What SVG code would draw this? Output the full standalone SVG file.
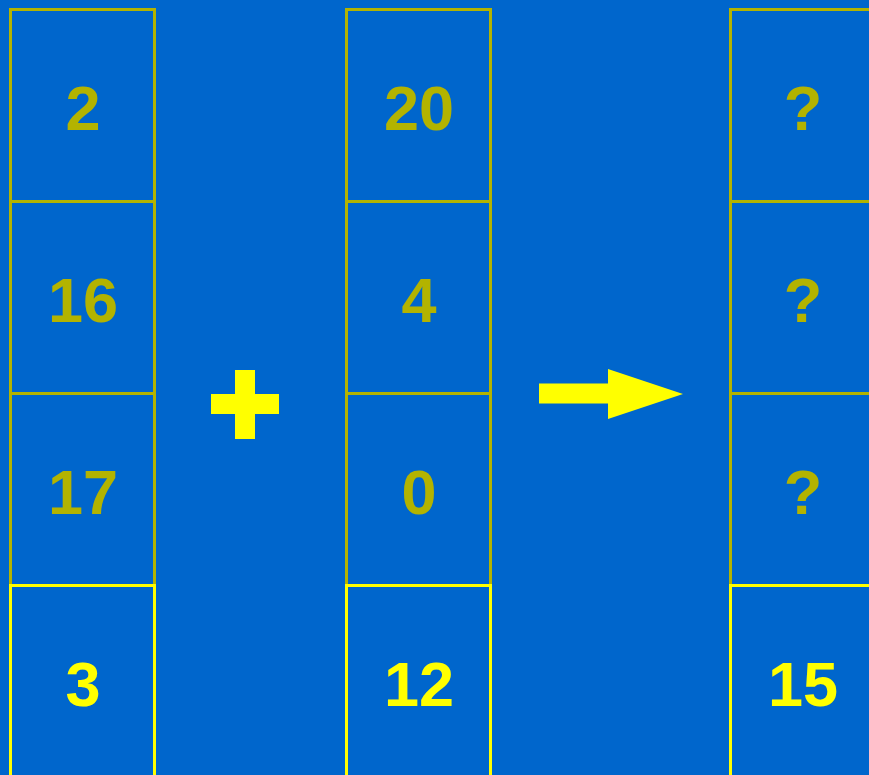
<svg xmlns="http://www.w3.org/2000/svg" width="869" height="775" viewBox="0 0 869 775">
<style>
.c{fill:none;stroke:#B3B300;stroke-width:3}
.h{fill:none;stroke:#FFFF00;stroke-width:3}
.t{font-family:"Liberation Sans",Arial,sans-serif;font-weight:bold;font-size:63px;text-anchor:middle;fill:#B3B300}
.ty{fill:#FFFF00}
.y{fill:#FFFF00}
</style>
<rect width="869" height="775" fill="#0066CC"/>
<g id="col1">
<g id="c1r1"><rect class="c" x="10.5" y="9.5" width="144" height="192"/><text class="t" x="83" y="130">2</text></g>
<g id="c1r2"><rect class="c" x="10.5" y="201.5" width="144" height="192"/><text class="t" x="83" y="322">16</text></g>
<g id="c1r3"><rect class="c" x="10.5" y="393.5" width="144" height="192"/><text class="t" x="83" y="514">17</text></g>
<g id="c1r4"><rect class="h" x="10.5" y="585.5" width="144" height="192"/><text class="t ty" x="83" y="706">3</text></g>
</g>
<g id="col2">
<g id="c2r1"><rect class="c" x="346.5" y="9.5" width="144" height="192"/><text class="t" x="419" y="130">20</text></g>
<g id="c2r2"><rect class="c" x="346.5" y="201.5" width="144" height="192"/><text class="t" x="419" y="322">4</text></g>
<g id="c2r3"><rect class="c" x="346.5" y="393.5" width="144" height="192"/><text class="t" x="419" y="514">0</text></g>
<g id="c2r4"><rect class="h" x="346.5" y="585.5" width="144" height="192"/><text class="t ty" x="419" y="706">12</text></g>
</g>
<g id="col3">
<g id="c3r1"><rect class="c" x="730.5" y="9.5" width="144" height="192"/><text class="t" x="803" y="130">?</text></g>
<g id="c3r2"><rect class="c" x="730.5" y="201.5" width="144" height="192"/><text class="t" x="803" y="322">?</text></g>
<g id="c3r3"><rect class="c" x="730.5" y="393.5" width="144" height="192"/><text class="t" x="803" y="514">?</text></g>
<g id="c3r4"><rect class="h" x="730.5" y="585.5" width="144" height="192"/><text class="t ty" x="803" y="706">15</text></g>
</g>
<g id="connectors">
<path id="plus" class="y" d="M235 370H255V394H279V414H255V439H235V414H211V394H235Z"/>
<path id="arrow" class="y" d="M539 383.5H608V369L683 394L608 419V403.5H539Z"/>
</g>
</svg>
